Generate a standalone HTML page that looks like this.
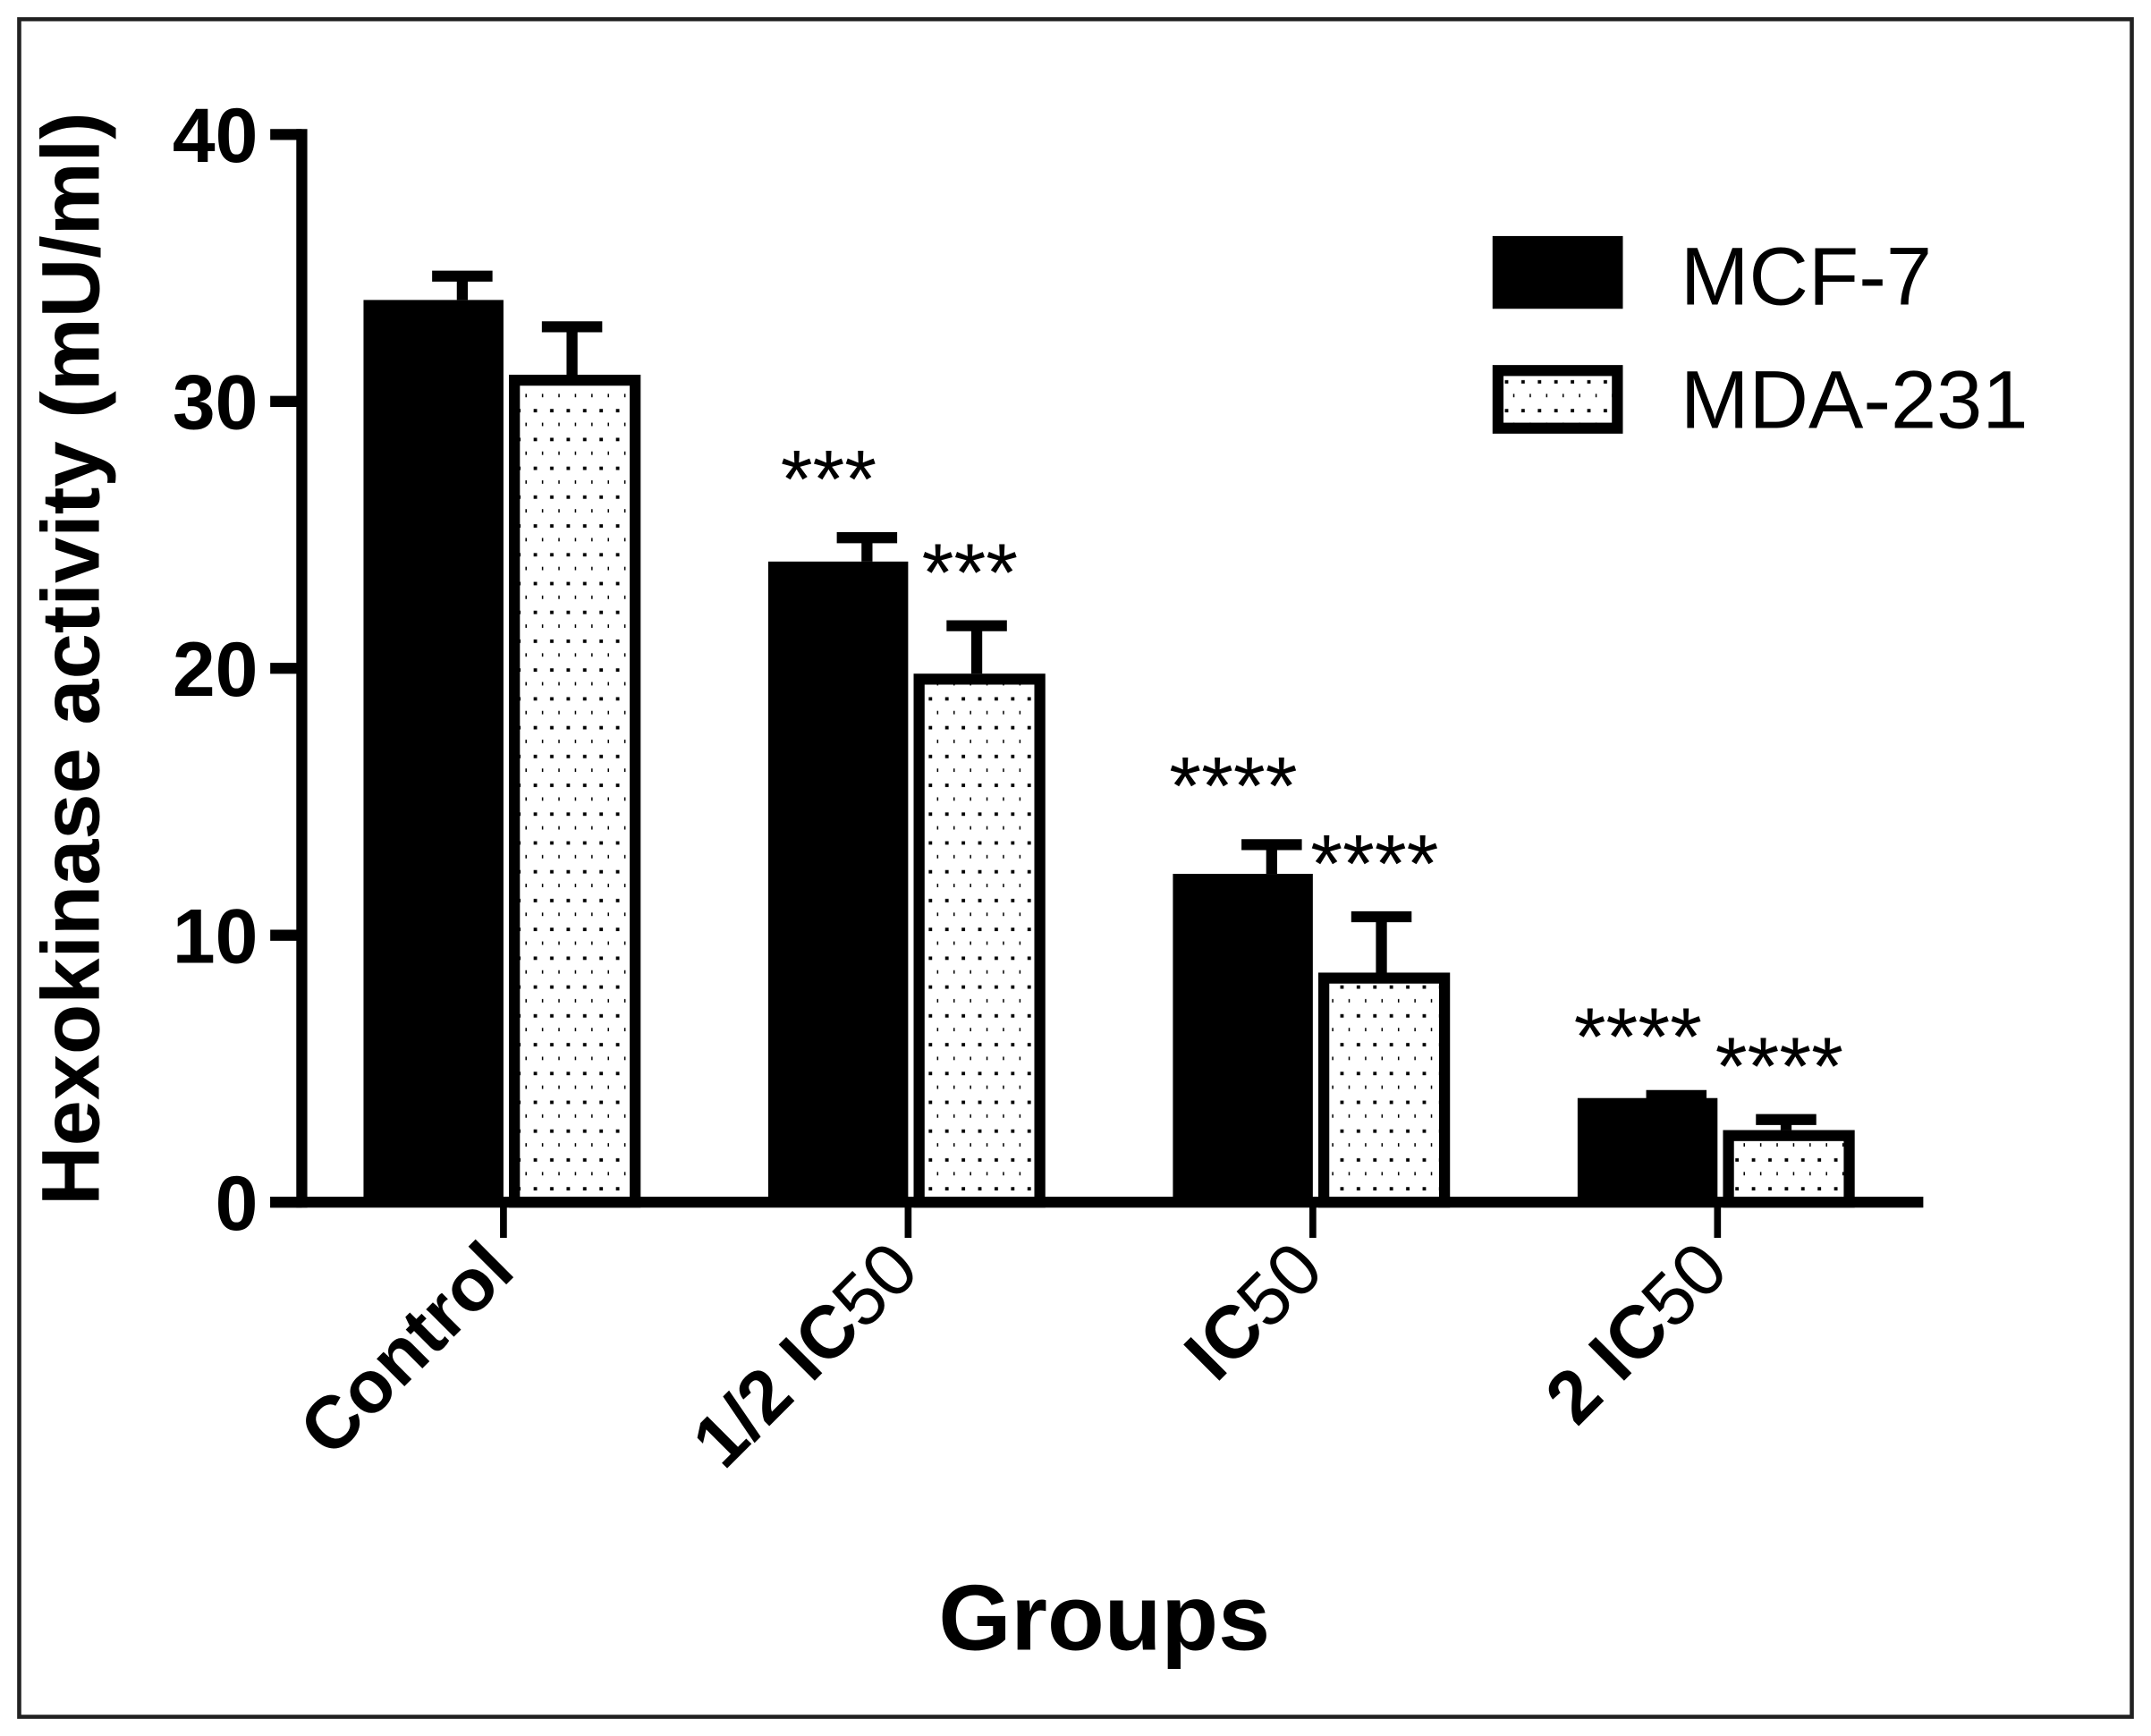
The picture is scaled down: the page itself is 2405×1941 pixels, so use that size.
<!DOCTYPE html>
<html><head><meta charset="utf-8"><style>
html,body{margin:0;padding:0;background:#fff;}
svg{display:block;}
text{font-family:"Liberation Sans",Arial,sans-serif;}
</style></head><body>
<svg id="chart" width="2405" height="1941" viewBox="0 0 1568 1265" preserveAspectRatio="none" xmlns="http://www.w3.org/2000/svg">
<defs>
<pattern id="dots" width="12" height="21" patternUnits="userSpaceOnUse">
<rect x="5" y="4" width="2.5" height="2.5" fill="#000"/>
<rect x="11" y="14" width="2.5" height="2.5" fill="#000"/>
</pattern>
</defs>
<rect x="14" y="14" width="1540" height="1237" fill="#fff" stroke="#222" stroke-width="3"/>
<g id="plot"></g>
<text transform="translate(72,480) rotate(-90)" text-anchor="middle" font-size="60" font-weight="bold">Hexokinase activity (mU/ml)</text>
<text x="805" y="1202" text-anchor="middle" font-size="68" font-weight="bold">Groups</text>
<g>
<rect x="1088" y="172" width="95" height="53" fill="#000"/>
<text x="1225" y="222" font-size="60">MCF-7</text>
<rect x="1092" y="270" width="87" height="42" fill="url(#dots)" stroke="#000" stroke-width="8"/>
<text x="1225" y="312" font-size="60">MDA-231</text>
</g>
</svg>
<script>
const categories = ["Control", "1/2 IC", "IC", "2 IC"];
const categorySub = ["", "50", "50", "50"];
const mcf7Values = [33.8, 24.0, 12.3, 3.9];
const mcf7Errors = [1.1, 1.1, 1.3, 0.3];
const mda231Values = [31.0, 19.8, 8.6, 2.7];
const mda231Errors = [2.0, 2.0, 2.3, 0.6];
const mcf7Stars = ["", "***", "****", "****"];
const mda231Stars = ["", "***", "****", "****"];
const yTicks = [0, 10, 20, 30, 40];

const NS = "http://www.w3.org/2000/svg";
const g = document.getElementById("plot");
const x0 = 220, y0 = 876, yTop = 98, yMax = 40;
function yScale(v){ return y0 - (v / yMax) * (y0 - yTop); }
function groupX(i){ return 367 + i * 295; }
function mk(tag, attrs){ const e = document.createElementNS(NS, tag); for (const k in attrs) e.setAttribute(k, attrs[k]); g.appendChild(e); return e; }

let ax = mk("line", {x1:x0, y1:yTop-4, x2:x0, y2:y0+4, stroke:"#000", "stroke-width":8});


yTicks.forEach(t => {
  const y = yScale(t);
  const tk = mk("line", {x1:197, y1:y, x2:x0, y2:y, stroke:"#000", "stroke-width":8});
  
  
  const lb = mk("text", {x:188, y:y+20, "text-anchor":"end", "font-size":56, "font-weight":"bold"});
  lb.textContent = t;
  
  
});

categories.forEach((c, i) => {
  const cx = groupX(i);
  const yb = yScale(mcf7Values[i]);
  const ye = yScale(mcf7Values[i] + mcf7Errors[i]);
  const eb = mk("path", {d:`M${cx-52},${ye+4}H${cx-8}M${cx-30},${ye}V${yb}`, stroke:"#000", "stroke-width":8, fill:"none"});
  
  
  const b1 = mk("rect", {x:cx-102, y:yb, width:102, height:y0-yb, fill:"#000"});
  
  
  const yb2 = yScale(mda231Values[i]);
  const ye2 = yScale(mda231Values[i] + mda231Errors[i]);
  const eb2 = mk("path", {d:`M${cx+28},${ye2+4}H${cx+72}M${cx+50},${ye2}V${yb2}`, stroke:"#000", "stroke-width":8, fill:"none"});
  
  
  const b2 = mk("rect", {x:cx+8, y:yb2+4, width:88, height:y0-yb2-4, fill:"url(#dots)", stroke:"#000", "stroke-width":8});
  
  
  if (mcf7Stars[i]) {
    const s = mk("text", {x:cx-58, y:ye-18, "text-anchor":"middle", "font-size":60});
    s.textContent = mcf7Stars[i];
    
    
  }
  if (mda231Stars[i]) {
    const s = mk("text", {x:cx+45, y:ye2-14, "text-anchor":"middle", "font-size":60});
    s.textContent = mda231Stars[i];
    
    
  }
  const xt = mk("line", {x1:cx, y1:y0, x2:cx, y2:902, stroke:"#000", "stroke-width":5});
  
  
  const lb = mk("text", {transform:`translate(${cx+10},928) rotate(-45)`, "text-anchor":"end", "font-size":54, "font-weight":"bold"});
  lb.textContent = c;
  if (categorySub[i]) {
    const ts = document.createElementNS(NS, "tspan");
    ts.setAttribute("font-weight", "normal");
    ts.textContent = categorySub[i];
    lb.appendChild(ts);
  }
  
  
});
const xa = mk("line", {x1:197, y1:y0, x2:1402, y2:y0, stroke:"#000", "stroke-width":8});


</script>
</body></html>
